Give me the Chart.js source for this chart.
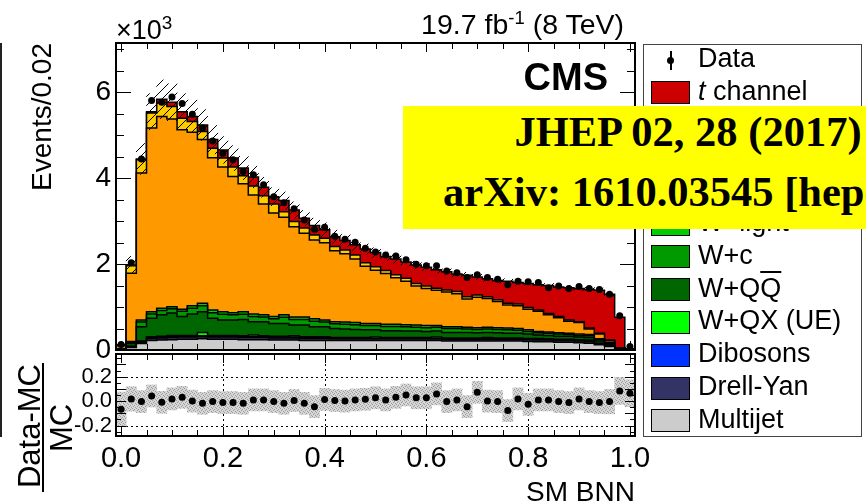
<!DOCTYPE html>
<html lang="en">
<head>
<meta charset="UTF-8">
<title>SM BNN</title>
<style>
  body {
    margin: 0;
    width: 866px;
    height: 504px;
    overflow: hidden;
    position: relative;
    background: #fff;
    color: #000;
    font-family: 'Liberation Sans', Arial, Helvetica, sans-serif;
  }
  canvas { position: absolute; left: 0; top: 0; }
  .txt { position: absolute; white-space: nowrap; line-height: 1; }
  .rot { position: absolute; white-space: nowrap; line-height: 1; transform-origin: 0 0; transform: rotate(-90deg); }
  .legend-box { position: absolute; left: 643px; top: 44px; width: 219px; height: 393px; border: 1px solid #444; box-sizing: border-box; background: #fff; }
  .swatch { position: absolute; left: 651px; width: 39px; height: 23px; border: 1px solid #000; box-sizing: border-box; }
  .ltxt { position: absolute; left: 698px; font-size: 27px; line-height: 1; white-space: nowrap; }
  .stamp { position: absolute; left: 403px; top: 106px; width: 570px; height: 123px; background: #ffff00;
           font-family: 'Liberation Serif', 'Times New Roman', serif; font-weight: bold; font-size: 42.5px;
           text-align: center; line-height: 1; }
  .stamp div { position: absolute; left: 0; width: 100%; white-space: nowrap; }
</style>
<script src="https://cdn.jsdelivr.net/npm/chart.js@4"></script>
</head>
<body>

<canvas id="main" width="866" height="504"></canvas>
<canvas id="ratio" width="866" height="504"></canvas>

<div style="position:absolute; left:0; top:43px; width:2px; height:394px; background:#222;"></div>
<div class="rot" style="left:28px; top:243px; width:200px; text-align:right; font-size:28px;">Events/0.02</div>
<div class="txt" style="left:116px; top:17px; font-size:27px;">×10<sup style="font-size:0.7em; line-height:0;">3</sup></div>
<div class="txt" style="right:242px; top:10px; font-size:28.5px;">19.7 fb<sup style="font-size:0.65em; line-height:0;">-1</sup> (8 TeV)</div>
<div class="txt" style="right:258px; top:58px; font-size:38px; font-weight:bold;">CMS</div>
<div class="rot" style="left:14px; top:526px; width:200px; text-align:center; font-size:31px;">Data-MC</div>
<div style="position:absolute; left:42px; top:363px; width:2px; height:129px; background:#000;"></div>
<div class="rot" style="left:46px; top:528px; width:200px; text-align:center; font-size:31px;">MC</div>
<div class="txt" style="right:231px; top:478px; font-size:28px;">SM BNN</div>

<div class="legend-box"></div>
<div id="legend"></div>

<div class="stamp">
  <div style="top:5px;">JHEP 02, 28 (2017)</div>
  <div style="top:65px;">arXiv: 1610.03545 [hep-ex]</div>
</div>

<script>
  // bin centres of the SM BNN histogram (bin width 0.02)
  const binCenters = [
    0.00, 0.02, 0.04, 0.06, 0.08, 0.10, 0.12, 0.14, 0.16, 0.18,
    0.20, 0.22, 0.24, 0.26, 0.28, 0.30, 0.32, 0.34, 0.36, 0.38,
    0.40, 0.42, 0.44, 0.46, 0.48, 0.50, 0.52, 0.54, 0.56, 0.58,
    0.60, 0.62, 0.64, 0.66, 0.68, 0.70, 0.72, 0.74, 0.76, 0.78,
    0.80, 0.82, 0.84, 0.86, 0.88, 0.90, 0.92, 0.94, 0.96, 0.98,
    1.00
  ];
  const binWidth = 0.02;

  // events per bin, in units of 10^3 (stack order: bottom -> top)
  const multijet = [
    0.02,0.06,0.15,0.22,0.23,0.24,0.25,0.25,0.26,0.25,
    0.25,0.25,0.24,0.24,0.24,0.23,0.23,0.23,0.22,0.22,
    0.22,0.22,0.22,0.22,0.22,0.22,0.22,0.22,0.22,0.22,
    0.22,0.22,0.21,0.21,0.21,0.21,0.21,0.21,0.21,0.21,
    0.20,0.19,0.19,0.18,0.18,0.17,0.16,0.12,0.08,0.01,
    0.00
  ];
  const drellYan = [
    0.01,0.01,0.03,0.05,0.05,0.05,0.05,0.05,0.05,0.05,
    0.05,0.05,0.05,0.05,0.05,0.05,0.05,0.05,0.05,0.05,
    0.05,0.04,0.04,0.04,0.04,0.04,0.04,0.04,0.04,0.04,
    0.04,0.04,0.04,0.04,0.04,0.04,0.04,0.04,0.04,0.04,
    0.04,0.04,0.04,0.04,0.04,0.04,0.04,0.02,0.02,0.00,
    0.00
  ];
  const dibosons = [
    0.00,0.01,0.01,0.02,0.02,0.02,0.02,0.02,0.02,0.02,
    0.02,0.02,0.02,0.02,0.02,0.02,0.02,0.02,0.02,0.02,
    0.02,0.01,0.01,0.01,0.01,0.01,0.01,0.01,0.01,0.01,
    0.01,0.01,0.01,0.01,0.01,0.01,0.01,0.01,0.01,0.01,
    0.01,0.01,0.01,0.01,0.01,0.01,0.01,0.01,0.01,0.00,
    0.00
  ];
  const wqxUE = [
    0.00,0.01,0.02,0.02,0.02,0.03,0.02,0.02,0.08,0.02,
    0.02,0.02,0.02,0.04,0.02,0.02,0.02,0.03,0.02,0.02,
    0.02,0.02,0.02,0.02,0.02,0.03,0.02,0.02,0.02,0.02,
    0.02,0.03,0.02,0.02,0.02,0.02,0.03,0.02,0.02,0.02,
    0.02,0.03,0.02,0.02,0.02,0.02,0.02,0.01,0.01,0.00,
    0.00
  ];
  const wqq = [
    0.00,0.06,0.33,0.43,0.50,0.52,0.44,0.50,0.48,0.40,
    0.36,0.36,0.38,0.31,0.33,0.30,0.30,0.25,0.27,0.23,
    0.23,0.21,0.20,0.19,0.18,0.17,0.16,0.16,0.15,0.15,
    0.14,0.14,0.13,0.13,0.13,0.12,0.12,0.12,0.11,0.11,
    0.10,0.08,0.08,0.07,0.07,0.06,0.06,0.05,0.03,0.01,
    0.00
  ];
  const wc = [
    0.00,0.03,0.11,0.10,0.10,0.10,0.12,0.13,0.14,0.13,
    0.13,0.12,0.12,0.12,0.11,0.11,0.14,0.13,0.13,0.13,
    0.11,0.11,0.11,0.11,0.10,0.10,0.10,0.10,0.10,0.09,
    0.09,0.09,0.09,0.09,0.08,0.08,0.08,0.08,0.08,0.07,
    0.06,0.05,0.05,0.05,0.04,0.04,0.04,0.03,0.02,0.01,
    0.00
  ];
  const wlight = [
    0.00,0.02,0.05,0.05,0.05,0.05,0.05,0.06,0.06,0.06,
    0.06,0.05,0.06,0.06,0.05,0.05,0.06,0.06,0.06,0.06,
    0.05,0.05,0.05,0.05,0.05,0.05,0.05,0.05,0.05,0.05,
    0.05,0.04,0.04,0.04,0.04,0.04,0.04,0.04,0.04,0.04,
    0.04,0.03,0.03,0.03,0.03,0.03,0.03,0.02,0.01,0.00,
    0.00
  ];
  const ttbar = [
    0.07,1.59,3.42,4.28,4.47,4.37,4.18,4.04,3.81,3.55,
    3.37,3.17,2.98,2.77,2.58,2.41,2.27,2.10,1.95,1.83,
    1.80,1.65,1.59,1.48,1.33,1.24,1.18,1.08,1.01,0.91,
    0.86,0.82,0.81,0.77,0.66,0.71,0.67,0.61,0.54,0.53,
    0.48,0.47,0.40,0.35,0.28,0.27,0.13,0.11,0.04,0.02,
    0.00
  ];
  const tW = [
    0.01,0.17,0.31,0.35,0.31,0.29,0.27,0.25,0.19,0.22,
    0.21,0.22,0.19,0.21,0.19,0.21,0.13,0.12,0.12,0.12,
    0.10,0.10,0.09,0.09,0.08,0.08,0.07,0.07,0.07,0.06,
    0.06,0.05,0.05,0.05,0.05,0.05,0.04,0.04,0.04,0.04,
    0.04,0.03,0.03,0.03,0.03,0.02,0.02,0.02,0.01,0.00,
    0.00
  ];
  const tChannel = [
    0.01,0.02,0.02,0.03,0.09,0.10,0.15,0.12,0.15,0.20,
    0.19,0.21,0.18,0.21,0.20,0.17,0.26,0.27,0.23,0.22,
    0.20,0.23,0.22,0.24,0.32,0.33,0.33,0.37,0.38,0.43,
    0.44,0.43,0.42,0.41,0.50,0.42,0.42,0.45,0.51,0.50,
    0.56,0.59,0.65,0.69,0.75,0.77,0.90,1.00,1.07,0.71,
    0.03
  ];
  // half width of the hatched MC uncertainty band
  const mcUnc = [
    0.02,0.20,0.36,0.42,0.45,0.43,0.42,0.38,0.36,0.33,
    0.31,0.29,0.27,0.25,0.23,0.21,0.20,0.19,0.18,0.17,
    0.16,0.15,0.14,0.13,0.12,0.11,0.10,0.10,0.09,0.09,
    0.08,0.08,0.07,0.07,0.07,0.06,0.06,0.06,0.06,0.06,
    0.05,0.05,0.05,0.05,0.05,0.05,0.05,0.05,0.05,0.04,
    0.01
  ];
  const dataVals = [
    0.13,2.03,4.45,5.81,5.77,5.89,5.74,5.49,5.17,4.87,
    4.58,4.43,4.16,4.08,3.85,3.57,3.43,3.29,3.03,2.81,
    2.86,2.65,2.58,2.51,2.37,2.28,2.21,2.19,2.10,2.00,
    1.96,1.96,1.84,1.80,1.69,1.75,1.69,1.65,1.52,1.60,
    1.59,1.57,1.45,1.49,1.43,1.48,1.43,1.41,1.30,0.80,
    0.08
  ];
  // (Data-MC)/MC and its error box
  const ratioVals = [
    -0.066,0.018,-0.004,0.042,-0.010,0.018,0.031,0.000,-0.018,-0.004,
    -0.012,-0.012,-0.018,0.010,0.010,-0.004,-0.018,0.005,-0.018,-0.045,
    0.014,0.005,0.000,0.010,0.015,0.027,0.010,0.031,0.050,0.027,
    0.027,0.059,-0.004,0.010,-0.045,0.072,0.000,-0.004,-0.077,0.018,
    -0.026,0.010,0.010,-0.004,-0.012,0.018,-0.004,-0.012,-0.004,0.083,
    0.064
  ];
  const ratioErr = [
    0.14,0.10,0.09,0.09,0.09,0.09,0.09,0.09,0.09,0.09,
    0.09,0.09,0.09,0.09,0.09,0.09,0.09,0.09,0.09,0.09,
    0.09,0.09,0.09,0.09,0.09,0.09,0.09,0.09,0.09,0.09,
    0.09,0.09,0.09,0.09,0.09,0.09,0.09,0.09,0.09,0.09,
    0.09,0.09,0.09,0.09,0.09,0.09,0.09,0.09,0.10,0.11,
    0.11
  ];

  const mainYTicks = [0, 2, 4, 6];
  const ratioYTicks = [-0.2, 0.0, 0.2];
  const xTicks = [0.0, 0.2, 0.4, 0.6, 0.8, 1.0];
  const ratioGridX = [0.2, 0.4, 0.6, 0.8];
  const ratioGridY = [-0.2, 0.2];

  const FONT = "'Liberation Sans', Arial, Helvetica, sans-serif";

  // layers, bottom of the stack first
  const layers = [
    { label: 'Multijet', color: '#cccccc', values: multijet },
    { label: 'Drell-Yan', color: '#333366', values: drellYan },
    { label: 'Dibosons', color: '#0033ff', values: dibosons },
    { label: 'W+QX (UE)', color: '#00ff00', values: wqxUE },
    { label: 'W+QQ', color: '#006600', values: wqq },
    { label: 'W+c', color: '#009900', values: wc },
    { label: 'W+light', color: '#00cc00', values: wlight },
    { label: 'tt', color: '#ff9900', values: ttbar },
    { label: 'tW', color: '#ffcc00', values: tW },
    { label: 't channel', color: '#cc0000', values: tChannel }
  ];

  const edges = binCenters.map(c => c - binWidth / 2);
  edges.push(binCenters[binCenters.length - 1] + binWidth / 2);

  function stepPoints(vals) {
    const pts = vals.map((v, i) => ({ x: edges[i], y: v }));
    pts.push({ x: edges[vals.length], y: vals[vals.length - 1] });
    return pts;
  }

  let running = binCenters.map(() => 0);
  const stackSets = layers.map((l, idx) => {
    running = running.map((v, i) => v + l.values[i]);
    return {
      type: 'line',
      label: l.label,
      data: stepPoints(running),
      stepped: 'before',
      fill: idx === 0 ? 'origin' : '-1',
      backgroundColor: l.color,
      borderColor: '#000',
      borderWidth: 1.5,
      pointRadius: 0,
      order: 3
    };
  });
  const total = running;

  function hatchPattern() {
    const c = document.createElement('canvas');
    c.width = 9; c.height = 9;
    const g = c.getContext('2d');
    g.strokeStyle = '#000';
    g.lineWidth = 1;
    g.beginPath();
    g.moveTo(0, 9); g.lineTo(9, 0);
    g.moveTo(-2, 2); g.lineTo(2, -2);
    g.moveTo(7, 11); g.lineTo(11, 7);
    g.stroke();
    return g.createPattern(c, 'repeat');
  }

  function stipplePattern() {
    const c = document.createElement('canvas');
    c.width = 4; c.height = 4;
    const g = c.getContext('2d');
    g.fillStyle = '#d6d6d6';
    g.fillRect(0, 0, 4, 4);
    g.fillStyle = '#9c9c9c';
    [[0, 0], [2, 1], [1, 2], [3, 3]].forEach(p => g.fillRect(p[0], p[1], 1, 1));
    return g.createPattern(c, 'repeat');
  }

  // ROOT style: frame plus inward ticks on all four sides
  function frameTicks(cfg) {
    return {
      id: 'frameTicks',
      afterDraw(chart) {
        const { ctx, chartArea: a, scales } = chart;
        const xs = scales.x, ys = scales.y;
        ctx.save();
        ctx.strokeStyle = '#000';
        ctx.lineWidth = 1;
        ctx.beginPath();
        for (let k = 0; k <= 20; k++) {
          const px = Math.round(xs.getPixelForValue(k * 0.05)) + 0.5;
          const len = k % 4 === 0 ? cfg.xMaj : cfg.xMin;
          ctx.moveTo(px, a.bottom); ctx.lineTo(px, a.bottom - len);
          ctx.moveTo(px, a.top); ctx.lineTo(px, a.top + len);
        }
        for (let k = cfg.yFrom; k <= cfg.yTo; k++) {
          const v = k * cfg.yStep;
          const py = Math.round(ys.getPixelForValue(v)) + 0.5;
          const len = k % cfg.yMajEvery === 0 ? cfg.yMaj : cfg.yMin;
          ctx.moveTo(a.left, py); ctx.lineTo(a.left + len, py);
          ctx.moveTo(a.right, py); ctx.lineTo(a.right - len, py);
        }
        ctx.stroke();
        ctx.lineWidth = 2;
        ctx.strokeRect(a.left, a.top, a.right - a.left, a.bottom - a.top);
        ctx.restore();
      }
    };
  }

  const ratioGrid = {
    id: 'ratioGrid',
    beforeDatasetsDraw(chart) {
      const { ctx, chartArea: a, scales } = chart;
      ctx.save();
      ctx.strokeStyle = '#000';
      ctx.lineWidth = 1;
      ctx.setLineDash([2, 3]);
      ctx.beginPath();
      ratioGridX.forEach(v => {
        const px = Math.round(scales.x.getPixelForValue(v)) + 0.5;
        ctx.moveTo(px, a.top); ctx.lineTo(px, a.bottom);
      });
      ratioGridY.forEach(v => {
        const py = Math.round(scales.y.getPixelForValue(v)) + 0.5;
        ctx.moveTo(a.left, py); ctx.lineTo(a.right, py);
      });
      ctx.stroke();
      ctx.restore();
    }
  };

  const tickFont = (size) => ({ size: size, family: FONT });

  new Chart(document.getElementById('main'), {
    type: 'line',
    data: {
      datasets: stackSets.concat([
        {
          type: 'bar',
          label: 'MC unc.',
          data: binCenters.map((c, i) => ({ x: c, y: [total[i] - mcUnc[i], total[i] + mcUnc[i]] })),
          backgroundColor: hatchPattern(),
          borderWidth: 0,
          barPercentage: 1,
          categoryPercentage: 1,
          order: 2
        },
        {
          type: 'scatter',
          label: 'Data',
          data: binCenters.map((c, i) => ({ x: c, y: dataVals[i] })),
          pointRadius: 3.5,
          backgroundColor: '#000',
          borderWidth: 0,
          order: 1
        }
      ])
    },
    options: {
      responsive: false,
      animation: false,
      devicePixelRatio: 1,
      layout: { padding: { left: 0, right: 231, top: 43, bottom: 154 } },
      plugins: { legend: { display: false }, tooltip: { enabled: false } },
      scales: {
        x: { type: 'linear', display: false, min: -0.01, max: 1.01, offset: false },
        y: {
          min: 0, max: 7.15,
          afterFit: s => { s.width = 116; },
          afterBuildTicks: s => { s.ticks = mainYTicks.map(v => ({ value: v })); },
          grid: { display: false, drawTicks: false },
          border: { display: false },
          ticks: { padding: 5, color: '#000', font: tickFont(28) }
        }
      }
    },
    plugins: [frameTicks({ xMaj: 9, xMin: 6, yFrom: 0, yTo: 14, yStep: 0.5, yMajEvery: 4, yMaj: 15, yMin: 8 })]
  });

  new Chart(document.getElementById('ratio'), {
    type: 'line',
    data: {
      datasets: [
        {
          type: 'bar',
          label: 'Data/MC error',
          data: binCenters.map((c, i) => ({ x: c, y: [ratioVals[i] - ratioErr[i], ratioVals[i] + ratioErr[i]] })),
          backgroundColor: stipplePattern(),
          borderWidth: 0,
          barPercentage: 1,
          categoryPercentage: 1,
          order: 2
        },
        {
          type: 'scatter',
          label: '(Data-MC)/MC',
          data: binCenters.map((c, i) => ({ x: c, y: ratioVals[i] })),
          pointRadius: 3.5,
          backgroundColor: '#000',
          borderWidth: 0,
          order: 1
        }
      ]
    },
    options: {
      responsive: false,
      animation: false,
      devicePixelRatio: 1,
      layout: { padding: { left: 0, right: 231, top: 354, bottom: 0 } },
      plugins: { legend: { display: false }, tooltip: { enabled: false } },
      scales: {
        x: {
          type: 'linear', min: -0.01, max: 1.01, offset: false,
          afterFit: s => { s.height = 68; },
          afterBuildTicks: s => { s.ticks = xTicks.map(v => ({ value: v })); },
          grid: { display: false, drawTicks: false },
          border: { display: false },
          ticks: { padding: 6, color: '#000', font: tickFont(29), autoSkip: false, maxRotation: 0,
                   callback: v => v.toFixed(1) }
        },
        y: {
          min: -0.285, max: 0.385,
          afterFit: s => { s.width = 116; },
          afterBuildTicks: s => { s.ticks = ratioYTicks.map(v => ({ value: v })); },
          grid: { display: false, drawTicks: false },
          border: { display: false },
          ticks: { padding: 4, color: '#000', font: tickFont(22), callback: v => v.toFixed(1) }
        }
      }
    },
    plugins: [ratioGrid, frameTicks({ xMaj: 9, xMin: 6, yFrom: -5, yTo: 7, yStep: 0.05, yMajEvery: 2, yMaj: 10, yMin: 5 })]
  });

  // legend (ROOT style box)
  const legendRows = [
    { row: 0, html: 'Data', marker: true },
    { row: 1, html: '<i>t</i> channel', color: '#cc0000' },
    { row: 2, html: 'tW', color: '#ffcc00' },
    { row: 3, html: 't<span style="text-decoration:overline">t</span>', color: '#ff9900' },
    { row: 5, html: 'W+light', color: '#00cc00' },
    { row: 6, html: 'W+c', color: '#009900' },
    { row: 7, html: 'W+Q<span style="text-decoration:overline">Q</span>', color: '#006600' },
    { row: 8, html: 'W+QX (UE)', color: '#00ff00' },
    { row: 9, html: 'Dibosons', color: '#0033ff' },
    { row: 10, html: 'Drell-Yan', color: '#333366' },
    { row: 11, html: 'Multijet', color: '#cccccc' }
  ];
  const legendEl = document.getElementById('legend');
  legendRows.forEach(r => {
    const cy = 60 + 32.8 * r.row;
    let h = '';
    if (r.marker) {
      h += `<div style="position:absolute; left:670px; top:${cy - 9}px; width:1.5px; height:19px; background:#000;"></div>`;
      h += `<div style="position:absolute; left:667px; top:${cy - 3.5}px; width:7px; height:7px; border-radius:50%; background:#000;"></div>`;
    } else {
      h += `<div class="swatch" style="top:${cy - 11.5}px; background:${r.color};"></div>`;
    }
    h += `<div class="ltxt" style="top:${cy - 15}px;">${r.html}</div>`;
    legendEl.insertAdjacentHTML('beforeend', h);
  });
</script>
</body>
</html>
